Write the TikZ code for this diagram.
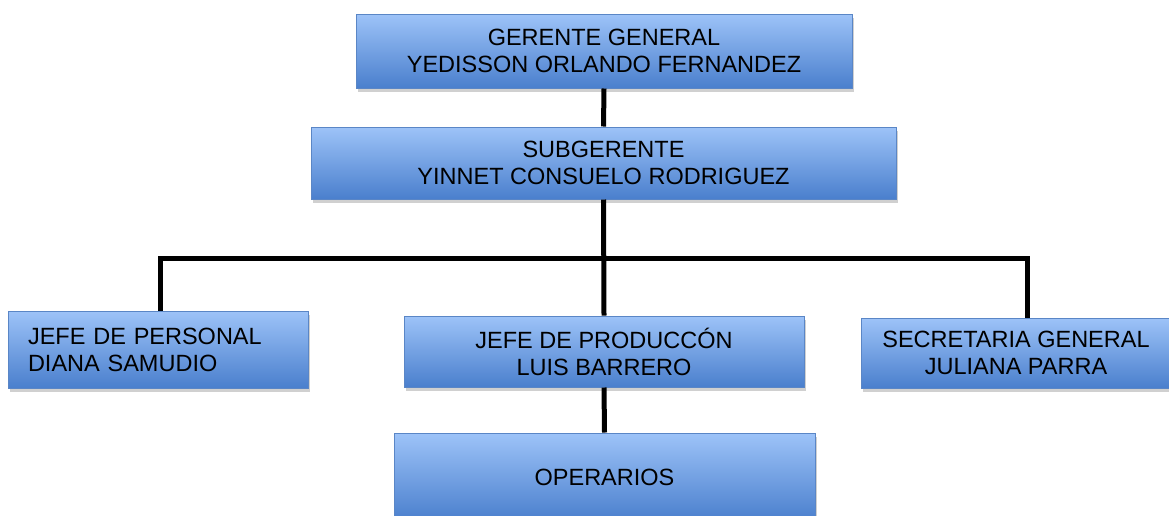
\documentclass[tikz,border=0pt]{standalone}
\usepackage{fontspec}
\setmainfont{Liberation Sans}
\usetikzlibrary{shadows}
\definecolor{boxtop}{HTML}{9DC3F8}
\definecolor{boxbot}{HTML}{4A7FCD}
\definecolor{boxline}{HTML}{5A86C6}
\begin{document}
\begin{tikzpicture}[x=1pt,y=-1pt,
  orgbox/.style={draw=boxline, line width=1pt, top color=boxtop, bottom color=boxbot,
    rectangle, align=center, inner sep=0pt,
    font=\fontsize{23.5}{27}\selectfont,
    drop shadow={shadow xshift=2pt, shadow yshift=-4pt, opacity=0.3, fill=black!60}},
  link/.style={line width=5pt, black, line join=miter}]
\useasboundingbox (0,0) rectangle (1169,515);
\fill[white] (0,0) rectangle (1169,515);
\node[orgbox, minimum width=496pt, minimum height=74pt] (ger) at (604,51) {GERENTE GENERAL\\YEDISSON ORLANDO FERNANDEZ};
\node[orgbox, minimum width=585pt, minimum height=72pt] (sub) at (603.5,163) {SUBGERENTE\\YINNET CONSUELO RODRIGUEZ};
\node[orgbox, minimum width=300pt, minimum height=77pt, align=left, text width=260pt, inner xsep=20pt] (jp) at (158,349.5) {JEFE DE PERSONAL\\DIANA SAMUDIO};
\node[orgbox, minimum width=400pt, minimum height=71pt] (jpr) at (604,351.5) {JEFE DE PRODUCCÓN\\LUIS BARRERO};
\node[orgbox, minimum width=310pt, minimum height=70pt] (sec) at (1016,353) {SECRETARIA GENERAL\\JULIANA PARRA};
\node[orgbox, minimum width=421pt, minimum height=88pt] (op) at (604.5,477) {OPERARIOS};
\coordinate (bar) at (604,258);
\draw[link] (ger.south) -- (sub.north);
\draw[link] (sub.south) -- (jpr.north);
\draw[link] ([xshift=2pt]jp.north) |- (bar) -| ([xshift=11pt]sec.north);
\draw[link] (jpr.south) -- (op.north);
\end{tikzpicture}
\end{document}
